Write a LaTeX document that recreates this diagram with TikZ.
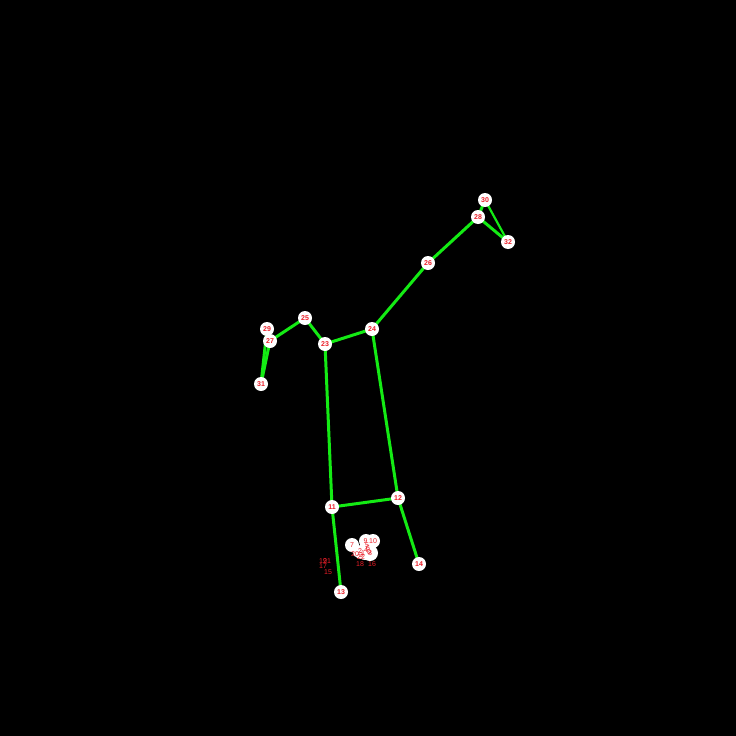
\documentclass[tikz,border=0pt]{standalone}
\usepackage{fontspec}
\setmainfont{Liberation Sans}
\definecolor{limb}{RGB}{20,235,20}
\definecolor{lab}{RGB}{235,30,40}
\pgfdeclarelayer{limbs}
\pgfdeclarelayer{ground}
\pgfsetlayers{ground,limbs,main}
\tikzset{
  x=1pt,y=-1pt,
  jt/.style={circle,fill=white,draw=none,minimum size=14pt,inner sep=0pt,text=lab,font=\fontsize{7}{7}\selectfont\bfseries},
  tag/.style={inner sep=0pt,text=lab,font=\fontsize{7}{7}\selectfont},
  limbline/.style={draw=limb,line width=3pt},
  thinlimb/.style={draw=limb,line width=2.2pt}
}
\begin{document}
\begin{tikzpicture}
\begin{pgfonlayer}{ground}
\fill[black] (0,0) rectangle (736,736);
\end{pgfonlayer}
\useasboundingbox (0,0) rectangle (736,736);
% white discs of the crowded face and hand points
\node[jt] (n7) at (352,545) {};
\node[jt] (n9) at (366,541) {};
\node[jt] (n10) at (373,541) {};
\node[jt] (n1) at (361,552) {};
\node[jt] (n4) at (367,549) {};
\node[jt,minimum size=16pt] (n8) at (370,553) {};
\node[jt] (n0) at (365,553) {};
\node[jt,minimum size=11pt] (n3) at (358,552) {};
% body joints
\node[jt] (n11) at (332,507) {11};
\node[jt] (n12) at (398,498) {12};
\node[jt] (n13) at (341,592) {13};
\node[jt] (n14) at (419,564) {14};
\node[jt] (n23) at (325,344) {23};
\node[jt] (n24) at (372,329) {24};
\node[jt] (n25) at (305,318) {25};
\node[jt] (n26) at (428,263) {26};
\node[jt] (n29) at (267,329) {29};
\node[jt] (n27) at (270,341) {27};
\node[jt] (n28) at (478,217) {28};
\node[jt] (n30) at (485,200) {30};
\node[jt] (n31) at (261,384) {31};
\node[jt] (n32) at (508,242) {32};
\begin{pgfonlayer}{limbs}
\draw[limbline] (n11.center) -- (n12.center);
\draw[limbline] (n11.center) -- (n23.center);
\draw[limbline] (n12.center) -- (n24.center);
\draw[limbline] (n23.center) -- (n24.center);
\draw[limbline] (n23.center) -- (n25.center);
\draw[limbline] (n24.center) -- (n26.center);
\draw[limbline] (n25.center) -- (n27.center);
\draw[limbline] (n26.center) -- (n28.center);
\draw[limbline] (n27.center) -- (n29.center);
\draw[limbline] (n28.center) -- (n30.center);
\draw[limbline] (n29.center) -- (n31.center);
\draw[thinlimb] (n30.center) -- (n32.center);
\draw[limbline] (n27.center) -- (n31.center);
\draw[limbline] (n28.center) -- (n32.center);
\draw[limbline] (n11.center) -- (n13.center);
\draw[limbline] (n12.center) -- (n14.center);
\end{pgfonlayer}
% labels of the crowded points
\node[tag] (t7) at (352,545) {7};
\node[tag] (t9) at (365.5,541) {9};
\node[tag] (t10) at (373,541) {10};
\node[tag] (t5) at (367,545) {5};
\node[tag] (t6) at (368,548) {6};
\node[tag] (t4) at (366,550) {4};
\node[tag] (t8) at (370,553) {8};
\node[tag] (t0) at (369,552) {0};
\node[tag] (t2) at (360,551) {2};
\node[tag] (t1) at (363,553) {1};
\node[tag] (t3) at (361,555) {3};
\node[tag] (t20) at (355,554) {20};
\node[tag] (t22) at (361,557) {22};
\node[tag] (t18) at (360,564) {18};
\node[tag] (t16) at (372,564) {16};
\node[tag] (t19) at (323,561) {19};
\node[tag] (t21) at (327,561) {21};
\node[tag] (t17) at (323,566) {17};
\node[tag] (t15) at (328,572) {15};
\end{tikzpicture}
\end{document}
